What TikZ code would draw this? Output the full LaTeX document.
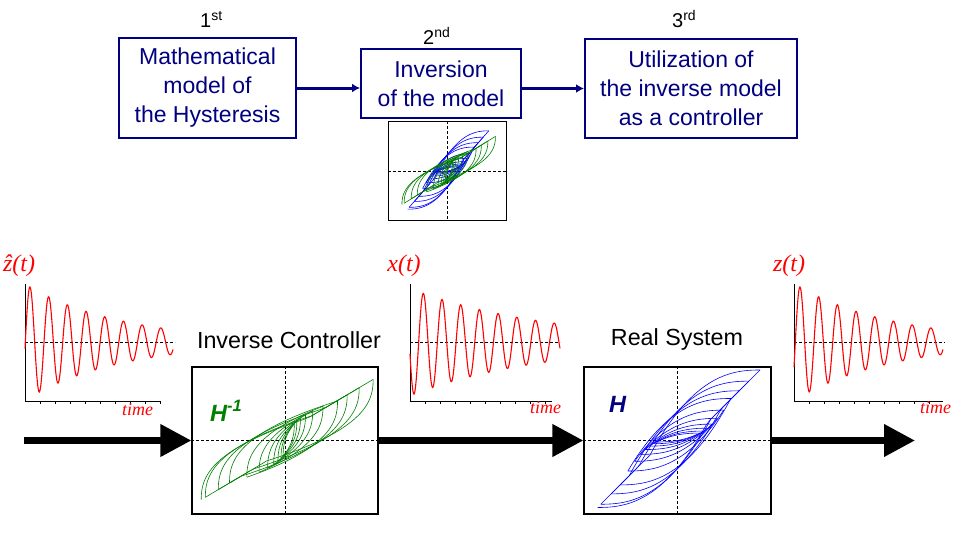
\documentclass[tikz,border=0pt]{standalone}
\usepackage{fontspec}
\setmainfont{Liberation Sans}
\newfontfamily\serifit{Liberation Serif}
\usetikzlibrary{arrows.meta}
\definecolor{navy}{RGB}{0,0,128}
\definecolor{hgreen}{RGB}{0,128,0}
\definecolor{hblue}{RGB}{0,0,255}
% #1 colour, #2 cx, #3 cy, #4 ax, #5 bx, #6 ay, #7 by
\newcommand\hystcurves[7]{%
  \gdef\hyXr{-80}\gdef\hyYr{-67}\gdef\hyAmp{82.5}\gdef\hySg{1}%
  \foreach \hyk in {1,...,21}{%
    \pgfmathsetmacro\hyXt{(\hySg)*\hyAmp}%
    \pgfmathsetmacro\hyU{abs(\hyXt-(\hyXr))}%
    \draw[#1, hystline] plot[domain=0:\hyU, samples=40, variable=\t]
      ({#2+(#4)*(\hyXr+(\hySg)*\t)+(#5)*(\hyYr+(\hySg)*gq(\t))},
       {#3-(#6)*(\hyXr+(\hySg)*\t)-(#7)*(\hyYr+(\hySg)*gq(\t))});
    \pgfmathsetmacro\hyYt{\hyYr+(\hySg)*gq(\hyU)}%
    \xdef\hyXr{\hyXt}\xdef\hyYr{\hyYt}%
    \pgfmathsetmacro\hyNa{0.93*\hyAmp}\xdef\hyAmp{\hyNa}%
    \pgfmathsetmacro\hyNs{-(\hySg)}\xdef\hySg{\hyNs}%
  }}
\tikzset{
  topbox/.style={draw=navy, line width=2pt, text=navy, align=center,
    font=\fontsize{23}{29}\selectfont, inner sep=0pt},
  navyarrow/.style={draw=navy, line width=3pt, -{Latex[length=8pt,width=9pt]}},
  plotbox/.style={draw=black, line width=1.2pt, inner sep=0pt},
  smallbox/.style={draw=black, line width=0.9pt, inner sep=0pt},
  dashline/.style={black, line width=0.9pt, dash pattern=on 3pt off 2pt},
  bigarrow/.style={black, line width=7pt, -{Triangle[length=31pt,width=31pt]}},
  sigline/.style={red, line width=1.1pt},
  axisline/.style={black, line width=1pt},
  hystline/.style={line width=0.6pt},
  ordinal/.style={font=\fontsize{20}{20}\selectfont, anchor=base west, inner sep=0pt},
  siglabel/.style={font=\serifit\itshape\fontsize{24}{24}\selectfont, text=red, inner sep=0pt},
  timelabel/.style={font=\serifit\itshape\fontsize{18}{18}\selectfont, text=red, anchor=base, inner sep=0pt},
  blocktitle/.style={font=\fontsize{23.3}{23.3}\selectfont, anchor=base, inner sep=0pt},
  hlabel/.style={font=\bfseries\itshape\fontsize{23.5}{23.5}\selectfont, anchor=base west, inner sep=0pt}
}
\begin{document}
\begin{tikzpicture}[x=1pt,y=-1pt,
  declare function={gq(\u)=(\u<111)?(70*((\u+0.001)/101.5)^2.41):(\u-25);}]
\useasboundingbox (0,0) rectangle (963,535);
\fill[white] (0,0) rectangle (963,535);

% ---------- top row ----------
\node[topbox, minimum width=177pt, minimum height=100pt] (m1) at (207.5,88)
  {Mathematical\\model of\\the Hysteresis};
\node[topbox, minimum width=160pt, minimum height=68pt] (m2) at (441,83.5)
  {Inversion\\of the model};
\node[topbox, minimum width=212pt, minimum height=99pt] (m3) at (691,88.5)
  {Utilization of\\the inverse model\\as a controller};
\draw[navyarrow] (m1.east) -- (m1.east -| m2.west);
\draw[navyarrow] (m3.west -| m2.east) -- (m3.west);

\node[ordinal] (o1) at (200,28) {1\textsuperscript{st}};
\node[ordinal] (o2) at (423,45) {2\textsuperscript{nd}};
\node[ordinal] (o3) at (672,28) {3\textsuperscript{rd}};

% small inversion plot
\node[smallbox, minimum width=118pt, minimum height=99pt] (inv) at (447.5,171) {};
\draw[dashline] (inv.north) -- (inv.south);
\draw[dashline] (inv.west) -- (inv.east);
\hystcurves{hblue}{447.5}{171}{0.5}{0}{0}{0.57}
\hystcurves{hgreen}{447.5}{171}{0}{0.68}{0.42}{0}

% ---------- signal plots ----------
% z-hat
\draw[axisline] (25,284) -- (25,401) -- (160,401);
\foreach \tx in {40,55,...,160} \draw[axisline] (\tx,401) -- (\tx,403.5);
\draw[dashline] (25,342) -- (175,342);
\draw[sigline] plot[domain=25:173,samples=300] (\x,{342-55*exp(-(\x-30)/96)*cos((\x-30)*19.25)});
\node[siglabel] (lzh) at (19,266) {\^{z}(t)};
\node[timelabel] (t1) at (137.5,415) {time};

% x
\draw[axisline] (410,284) -- (410,401) -- (552,401);
\foreach \tx in {425,440,...,552} \draw[axisline] (\tx,401) -- (\tx,403.5);
\draw[dashline] (410,342) -- (560,342);
\draw[sigline] plot[domain=410:560,samples=300] (\x,{342+52*exp(-(\x-414)/139)*cos((\x-414)*19.25)});
\node[siglabel] (lx) at (404,266) {x(t)};
\node[timelabel] (t2) at (545.5,413) {time};

% z
\draw[axisline] (794,284) -- (794,401) -- (943,401);
\foreach \tx in {809,824,...,943} \draw[axisline] (\tx,401) -- (\tx,403.5);
\draw[dashline] (794,342) -- (945,342);
\draw[sigline] plot[domain=794:943,samples=300] (\x,{342-55*exp(-(\x-800)/96)*cos((\x-800)*19.25)});
\node[siglabel] (lz) at (789,266) {z(t)};
\node[timelabel] (t3) at (935.5,413) {time};

% ---------- blocks ----------
\node[blocktitle] (tic) at (289,348) {Inverse Controller};
\node[blocktitle] (trs) at (677,345) {Real System};

\node[plotbox, minimum width=186pt, minimum height=147pt] (hinv) at (285,440.5) {};
\draw[dashline] (hinv.north) -- (hinv.south);
\draw[dashline] (hinv.west) -- (hinv.east);
\hystcurves{hgreen}{285}{440.5}{0}{1.25}{0.74}{0}
\node[hlabel, text=hgreen] (lhinv) at (210,421) {H\textsuperscript{-1}};

\node[plotbox, minimum width=187pt, minimum height=147pt] (hbox) at (677.5,440.5) {};
\draw[dashline] (hbox.north) -- (hbox.south);
\draw[dashline] (hbox.west) -- (hbox.east);
\hystcurves{hblue}{677.5}{440.5}{1}{0}{0}{1}
\node[hlabel, text=navy] (lh) at (609,412) {H};

% ---------- big arrows ----------
\coordinate (in) at (24,440.5);
\coordinate (out) at (915,440.5);
\draw[bigarrow] (in) -- (hinv.west);
\draw[bigarrow] (hinv.east) -- (hbox.west);
\draw[bigarrow] (hbox.east) -- (out);
\end{tikzpicture}
\end{document}
